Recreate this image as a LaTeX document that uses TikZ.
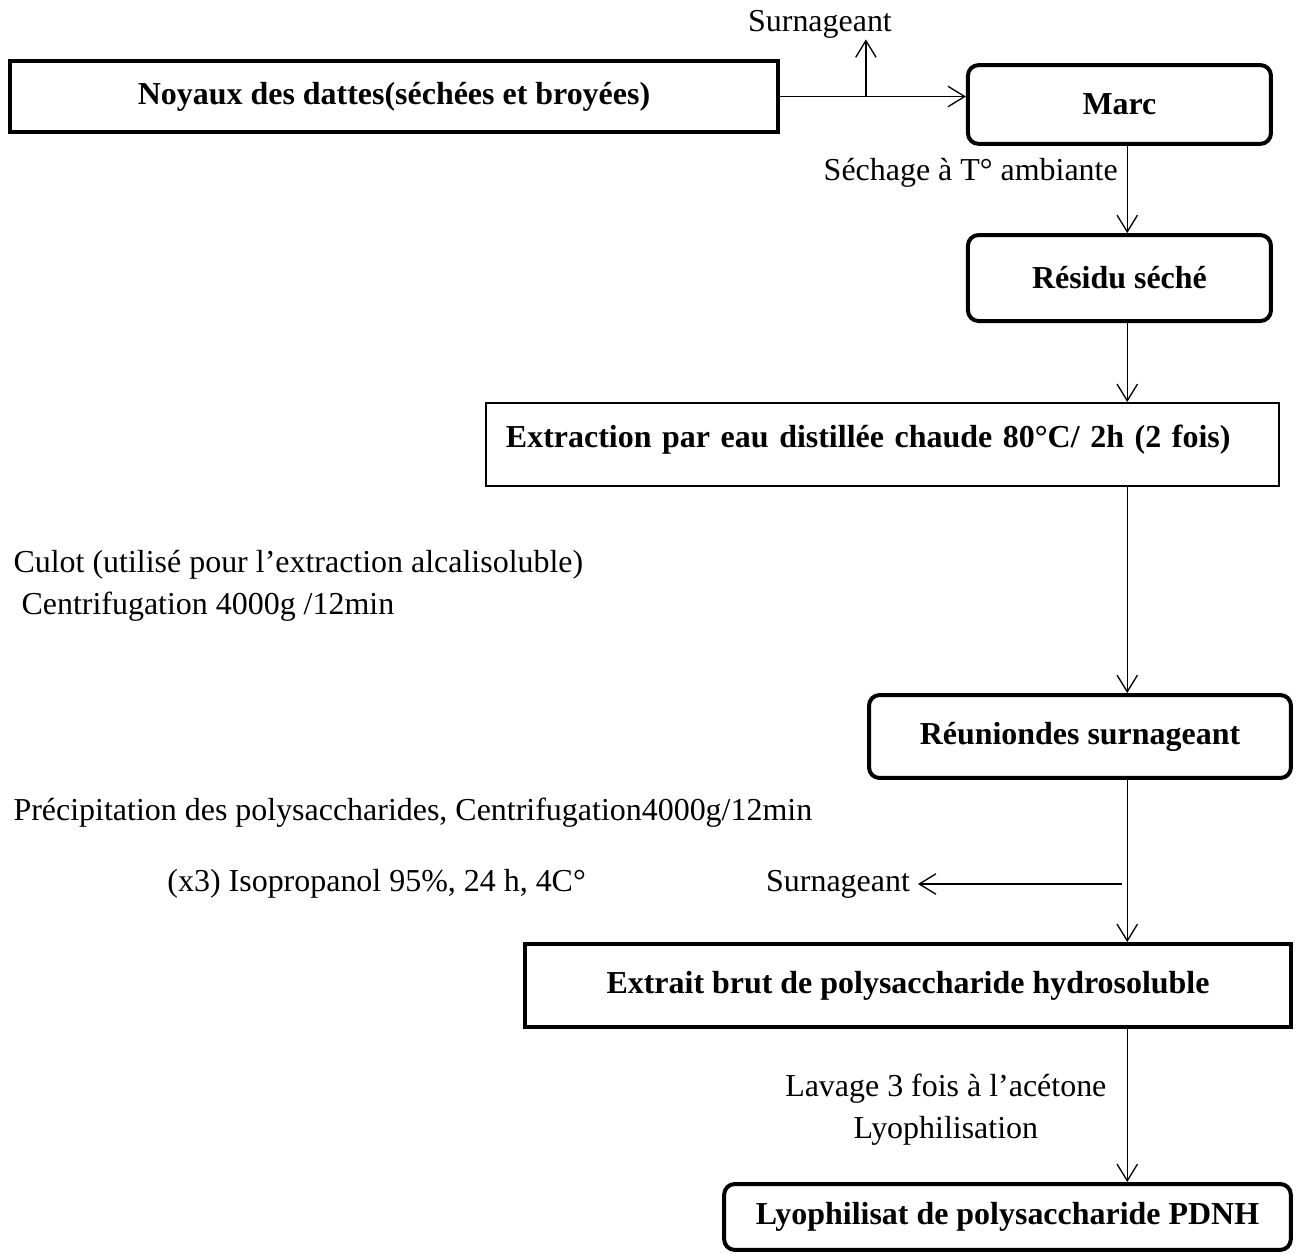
\documentclass[tikz,border=0pt]{standalone}
\usepackage{fontspec}
\setmainfont{Liberation Serif}
\usetikzlibrary{arrows.meta}

\begin{document}
\begin{tikzpicture}[font=\fontsize{12}{15.8}\selectfont,
    >={Straight Barb[length=0.22cm,width=0.27cm]},
    box/.style={draw,line width=1.5pt,font=\fontsize{12}{15.8}\selectfont\bfseries},
    rbox/.style={box,rounded corners=0.14cm},
    note/.style={inner sep=0pt,anchor=west,align=left},
    flow/.style={->,line width=0.5pt}]
    \useasboundingbox (0,0) rectangle (17.147,-16.553);
    \node[box,minimum width=10.14cm,minimum height=0.94cm] (noy) at (5.201,-1.274) {Noyaux des dattes(séchées et broyées)};
    \node[rbox,minimum width=4.0cm,minimum height=1.04cm] (marc) at (14.777,-1.379) {Marc};
    \node[rbox,minimum width=4.0cm,minimum height=1.135cm] (res) at (14.777,-3.670) {Résidu séché};
    \node[box,line width=0.6pt,inner xsep=0.264cm,text width=9.94cm,align=left,minimum height=1.10cm,text depth=0.22cm] (ext) at (11.649,-5.867) {\mbox{Extraction par eau distillée chaude 80°C/ 2h (2 fois)}};
    \node[rbox,minimum width=5.57cm,minimum height=1.095cm] (reun) at (14.256,-9.722) {Réuniondes surnageant};
    \node[box,minimum width=10.11cm,minimum height=1.095cm] (brut) at (11.986,-13.009) {Extrait brut de polysaccharide hydrosoluble};
    \node[rbox,minimum width=7.48cm,minimum height=0.87cm] (lyo) at (13.299,-16.064) {Lyophilisat de polysaccharide PDNH};
    \node[inner sep=0pt,anchor=south] (surn1) at (10.824,-0.52) {Surnageant};
    \node[inner sep=0.1cm,anchor=east] (surn2) at (12.118,-11.669) {Surnageant};
    \node[note] (culot) at (0.172,-7.735) {Culot (utilisé pour l’extraction alcalisoluble)\\\hspace*{0.25em}Centrifugation 4000g /12min};
    \node[note] (prec) at (0.172,-10.732) {Précipitation des polysaccharides, Centrifugation4000g/12min};
    \node[note] (iso) at (2.204,-11.66) {(x3) Isopropanol 95\%, 24 h, 4C°};
    \coordinate (col) at (14.88,0);
    \coordinate (br1) at (11.43,-1.274);
    \coordinate (br2) at (14.81,-11.669);
    \draw[flow] (noy.east) -- (noy.east -| marc.west);
    \draw[flow] (br1) -- (br1 |- surn1.south);
    \draw[flow] (marc.south -| col) -- node[pos=0.31,left] {Séchage à T° ambiante} (res.north -| col);
    \draw[flow] (res.south -| col) -- (ext.north -| col);
    \draw[flow] (ext.south -| col) -- (reun.north -| col);
    \draw[flow] (reun.south -| col) -- (brut.north -| col);
    \draw[flow] (br2) -- (surn2.east);
    \draw[flow] (brut.south -| col) -- node[pos=0.53,left=0.15cm,align=center] {Lavage 3 fois à l’acétone\\Lyophilisation} (lyo.north -| col);
  \end{tikzpicture}
\end{document}
